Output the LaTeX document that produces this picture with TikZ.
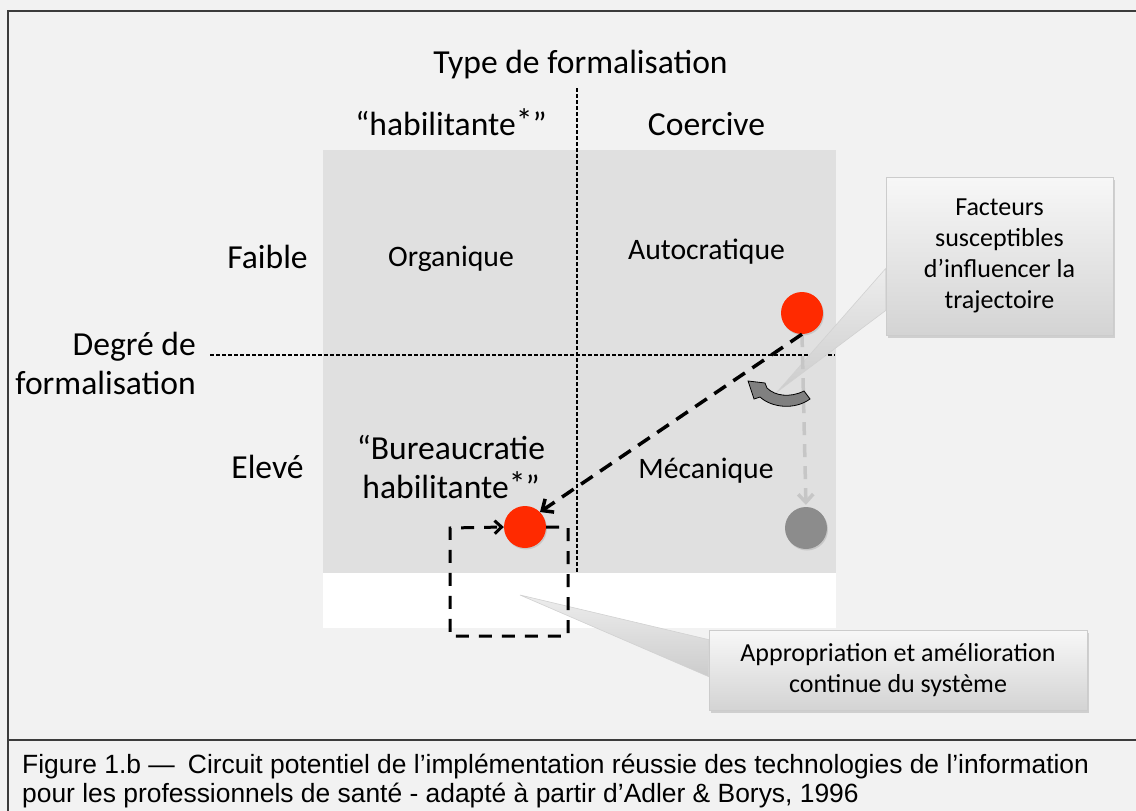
\documentclass[tikz,border=0pt]{standalone}
\usepackage{fontspec}
\setmainfont{Carlito}
\newfontfamily\legendefont{Liberation Sans}
\usetikzlibrary{arrows.meta,shadows,backgrounds,calc}

\definecolor{fond}{HTML}{F2F2F2}
\definecolor{plaque}{HTML}{E0E0E0}
\definecolor{rouge}{HTML}{FF2A00}
\definecolor{grisdisque}{HTML}{8C8C8C}
\definecolor{grisclair}{HTML}{C6C6C6}
\definecolor{cadre}{HTML}{3C3C3C}
\newcommand{\etoile}{\raisebox{0.15ex}{*}}

\begin{document}
\begin{tikzpicture}[x=1pt,y=-1pt,
    titre/.style={inner sep=0pt,anchor=base,align=center,font=\fontsize{33.6}{39}\selectfont},
    case/.style={inner sep=0pt,anchor=base,font=\fontsize{29.7}{36}\selectfont},
    bulle/.style={draw=black!20,line width=0.8pt,top color=black!3,bottom color=black!17,
        align=center,font=\fontsize{26}{31}\selectfont,
        drop shadow={opacity=0.3,shadow xshift=2pt,shadow yshift=-3pt}},
    pointe/.style={draw=black!18,line width=0.6pt,top color=black!7,bottom color=black!20},
    disque/.style={circle,inner sep=0pt,minimum size=42pt,
        drop shadow={opacity=0.25,shadow xshift=1pt,shadow yshift=-1.5pt}},
    fin/.style={line width=1.3pt,dash pattern=on 4pt off 2pt},
    trajet/.style={line width=3.5pt,dash pattern=on 14pt off 9pt,-{Straight Barb[length=9pt,width=16pt]}},
    trajetgris/.style={grisclair,line width=3.5pt,dash pattern=on 13pt off 9pt,
        -{Straight Barb[length=8pt,width=15pt]},shorten >=2pt},
    boucle/.style={line width=3pt,dash pattern=on 13pt off 10pt,-{Straight Barb[length=7pt,width=13pt]}},
    legende/.style={inner sep=0pt,anchor=base west,font=\legendefont\fontsize{26.4}{29}\selectfont}]
\useasboundingbox (0,0) rectangle (1136,811);

% decor
\begin{pgfonlayer}{background}
\fill[fond] (0,0) rectangle (1136,811);
\fill[plaque] (323,150) rectangle (836,573);
\fill[white] (323,573) rectangle (836,628);
\draw[cadre,line width=2pt] (8,830) |- (1150,11);
\draw[cadre,line width=1.5pt] (8,740) -- (1150,740);
\draw[fin] (577,88) -- (577,573);
\draw[fin] (210,355) -- (835,355);
\end{pgfonlayer}

% axes
\node[titre] (type) at (580.5,73) {Type de formalisation};
\node[titre] (habil) at (451,135) {“habilitante\etoile”};
\node[titre] (coerc) at (706.5,135) {Coercive};
\node[titre] (faible) at (267.5,268) {Faible};
\node[titre] (eleve) at (267.5,478) {Elevé};
\node[titre,align=right,anchor=base east] (degre) at (196,394) {Degré de\\formalisation};

% quadrants
\node[case] (organ) at (451,266) {Organique};
\node[case] (autoc) at (706.5,259) {Autocratique};
\node[titre] (bureau) at (451,498) {“Bureaucratie\\habilitante\etoile”};
\node[case] (meca) at (706,478) {Mécanique};

% bulles
\node[bulle,minimum width=227pt,minimum height=158pt] (facteurs) at (999.5,256)
    {Facteurs\\susceptibles\\d’influencer la\\trajectoire};
\node[bulle,minimum width=378pt,minimum height=80pt] (approp) at (898,670)
    {Appropriation et amélioration\\continue du système};
\coordinate (pointeF) at (777,392);
\coordinate (pointeA) at (520,595);

% positions
\node[disque,fill=rouge] (rHaut) at (802,313) {};
\node[disque,fill=rouge] (rBas) at (525,527) {};
\node[disque,fill=grisdisque] (gris) at (806,528) {};
\coordinate (coinD) at (568,636);
\coordinate (coinG) at (450,528);

\draw[trajetgris] (rHaut.south) -- (gris.north);
\draw[trajet] (rHaut.south) -- (rBas.north east);
\draw[boucle] (rBas.east) -| (coinD) -| (coinG) -- (rBas.west);

% fleche courbe
\filldraw[fill=black!50,draw=black,line width=0.8pt]
    (748,381) -- (765,383) -- (767,388) .. controls (775,396) and (790,398) .. (804,391)
    -- (810,399) .. controls (795,410) and (772,408) .. (760,397) -- (754,399) -- cycle;

\begin{pgfonlayer}{background}
\draw[pointe] ($(facteurs.north west)+(0,92)$) -- (pointeF) -- ($(facteurs.north west)+(0,134)$) -- cycle;
\draw[pointe] ($(approp.north west)+(0,10)$) -- (pointeA) -- ($(approp.north west)+(0,47)$) -- cycle;
\end{pgfonlayer}

% legende
\node[legende] (leg1) at (22,773) {Figure 1.b —\enspace Circuit potentiel de l’implémentation réussie des technologies de l’information};
\node[legende] (leg2) at (22,802) {pour les professionnels de santé - adapté à partir d’Adler \& Borys, 1996};
\end{tikzpicture}
\end{document}
